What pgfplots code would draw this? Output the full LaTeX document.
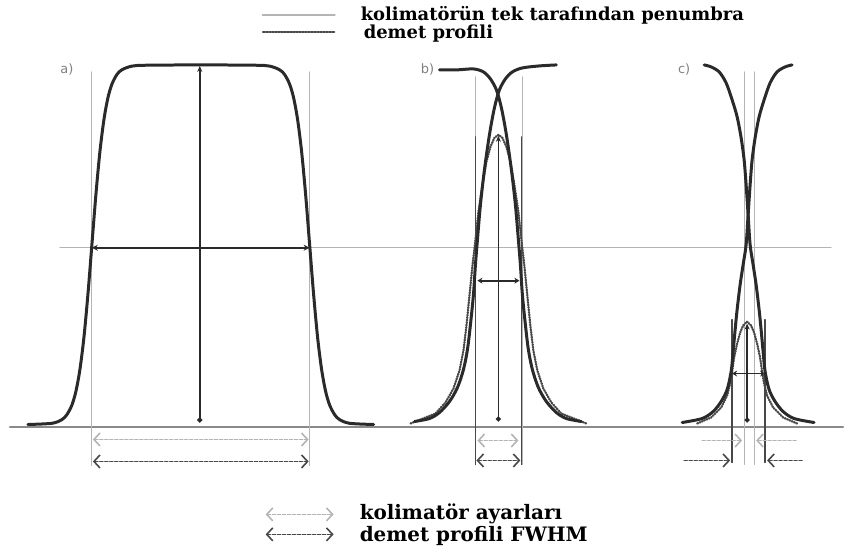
\documentclass[border=0pt]{standalone}
\usepackage{pgfplots}
\pgfplotsset{compat=1.18}
\usepackage{fontspec}
\setmainfont{DejaVu Serif}
\newfontfamily\labfont{DejaVu Sans}
\usetikzlibrary{arrows.meta}
\definecolor{curve}{HTML}{2A2A2A}
\definecolor{lgray}{HTML}{B4B4B4}
\definecolor{dgray}{HTML}{484848}
\definecolor{base}{HTML}{8A8A8A}
\begin{document}
\begin{tikzpicture}
\begin{axis}[width=844bp,height=554bp,scale only axis,
  xmin=0,xmax=844,ymin=0,ymax=554,y dir=reverse,
  axis lines=none,clip=false,
  every axis plot/.append style={line cap=round,line join=round}]
% bounding
\addplot[draw=none] coordinates {(0,0) (844,554)};
% half-maximum gray line and baseline
\addplot[lgray,line width=1.2bp] coordinates {(60,248) (832,248)};
\addplot[base,line width=2bp] coordinates {(10,428) (844,428)};
% ---------- a) ----------
\addplot[lgray,line width=1.2bp] coordinates {(92,72) (92,466)};
\addplot[lgray,line width=1.2bp] coordinates {(310,72) (310,466)};
\addplot[curve,line width=3bp,smooth] coordinates {
(28,425) (52,423.8) (62,420.1) (67,415.1) (72,405.5) (76,391.8) (80,370) (84,338) (88,295) (92,245)
(96,195) (100,152.1) (104,120.1) (108,98.1) (112,84.4) (117,74.7) (122,69.9) (132,66.2) (147,65.3) (201,65)
(255,65.3) (270,66.2) (280,69.9) (285,74.7) (290,84.4) (294,98.1) (298,120.1) (302,152.1) (306,195) (310,245)
(314,295) (318,338) (322,370) (326,391.8) (330,405.5) (335,415.1) (340,420.1) (350,423.8) (374,425)};
\addplot[curve,line width=1.5bp,{Circle[length=5bp]}-{Stealth[length=6bp,width=5bp]}] coordinates {(200,423) (200,66)};
\addplot[curve,line width=1.8bp,{Stealth[length=6bp,width=6bp]}-{Stealth[length=6bp,width=6bp]}] coordinates {(92,248) (310,248)};
\addplot[lgray,line width=1.6bp,dash pattern=on 3bp off 2bp,{Straight Barb[length=6bp,width=13bp]}-{Straight Barb[length=6bp,width=13bp]}] coordinates {(93,440) (309,440)};
\addplot[dgray,line width=1.6bp,dash pattern=on 3bp off 2bp,{Straight Barb[length=6bp,width=13bp]}-{Straight Barb[length=6bp,width=13bp]}] coordinates {(93,462) (309,462)};
% ---------- b) ----------
\addplot[lgray,line width=1.2bp] coordinates {(476,77) (476,465)};
\addplot[lgray,line width=1.2bp] coordinates {(523,77) (523,465)};
\addplot[dgray,line width=1.3bp] coordinates {(476,137) (476,465)};
\addplot[dgray,line width=1.3bp] coordinates {(522,137) (522,465)};
\addplot[dgray,line width=2.2bp,dash pattern=on 1bp off 1.5bp] coordinates {
(411,424) (436,414) (446,403) (454,389) (460,371) (464,351) (467,326) (470,296) (473,266) (476,240)
(479,212) (483,185) (487,162) (491,147) (495,138) (499,135) (503,138) (507,147) (511,162) (515,185)
(519,212) (522,240) (525,266) (528,296) (531,326) (534,351) (538,371) (544,389) (552,403) (562,414) (587,424)};
\addplot[curve,line width=3bp,smooth] coordinates {
(415,422) (430,419) (440,413) (450,402) (458,388) (464,370) (468,350) (471,325) (474,295) (476,265)
(478,240) (481,205) (485,170) (490,135) (495,108) (500,90) (506,79) (513,72) (523,68) (540,66) (557,65)};
\addplot[curve,line width=3bp,smooth] coordinates {
(582,422) (567,419) (557,413) (547,402) (539,388) (533,370) (529,350) (526,325) (523,295) (521,265)
(519,240) (516,205) (512,170) (507,135) (502,108) (497,90) (491,79) (484,72) (474,69) (457,70) (440,70)};
\addplot[curve,line width=1.5bp,{Circle[length=5bp]}-{Stealth[length=6bp,width=5bp]}] coordinates {(499,422) (499,136)};
\addplot[curve,line width=1.8bp,{Stealth[length=5bp,width=6bp]}-{Stealth[length=5bp,width=6bp]}] coordinates {(478,281) (520,281)};
\addplot[lgray,line width=1.6bp,dash pattern=on 3bp off 2bp,{Straight Barb[length=6bp,width=13bp]}-{Straight Barb[length=6bp,width=13bp]}] coordinates {(478,441) (519,441)};
\addplot[dgray,line width=1.6bp,dash pattern=on 3bp off 2bp,{Straight Barb[length=6bp,width=13bp]}-{Straight Barb[length=6bp,width=13bp]}] coordinates {(477,461) (521,461)};
% ---------- c) ----------
\addplot[lgray,line width=1.2bp] coordinates {(745,72) (745,465)};
\addplot[lgray,line width=1.2bp] coordinates {(755,72) (755,465)};
\addplot[dgray,line width=1.3bp] coordinates {(733,320) (733,463)};
\addplot[dgray,line width=1.3bp] coordinates {(766,320) (766,463)};
\addplot[dgray,line width=2.2bp,dash pattern=on 1bp off 1.5bp] coordinates {
(698,424) (712,418) (722,408) (728,396) (731,384) (733,372) (735,358) (738,344) (741,333) (744,326) (748,322)
(752,326) (755,333) (758,344) (761,358) (763,372) (765,384) (768,396) (774,408) (784,418) (798,424)};
\addplot[curve,line width=3bp,smooth] coordinates {
(705,65) (712,67) (720,72) (727,83) (733,100) (738,117) (742,138) (745,160) (747,185) (749,215) (751,245)
(754,265) (757,285) (760,310) (762,330) (764,352) (766,372) (770,390) (776,402) (784,412) (795,419) (815,423)};
\addplot[curve,line width=3bp,smooth] coordinates {
(793,65) (786,67) (778,72) (771,83) (765,100) (760,117) (756,138) (753,160) (751,185) (749,215) (747,245)
(744,265) (741,285) (738,310) (736,330) (734,352) (732,372) (728,390) (722,402) (714,412) (703,419) (683,423)};
\addplot[curve,line width=1.5bp,{Circle[length=5bp]}-{Stealth[length=6bp,width=5bp]}] coordinates {(748,423) (748,324)};
\addplot[curve,line width=1.8bp,{Stealth[length=5bp,width=6bp]}-{Stealth[length=5bp,width=6bp]}] coordinates {(733,374) (766,374)};
\addplot[lgray,line width=1.6bp,dash pattern=on 3bp off 2bp,-{Straight Barb[length=6bp,width=13bp]}] coordinates {(703,441) (743,441)};
\addplot[lgray,line width=1.6bp,dash pattern=on 3bp off 2bp,-{Straight Barb[length=6bp,width=13bp]}] coordinates {(797,441) (757,441)};
\addplot[dgray,line width=1.6bp,dash pattern=on 3bp off 2bp,-{Straight Barb[length=6bp,width=13bp]}] coordinates {(685,461) (731,461)};
\addplot[dgray,line width=1.6bp,dash pattern=on 3bp off 2bp,-{Straight Barb[length=6bp,width=13bp]}] coordinates {(803,461) (768,461)};
% panel labels
\node[anchor=center,text=gray,font=\labfont\fontsize{13}{15}\selectfont] at (axis cs:67,70) {a)};
\node[anchor=center,text=gray,font=\labfont\fontsize{13}{15}\selectfont] at (axis cs:428,70) {b)};
\node[anchor=center,text=gray,font=\labfont\fontsize{13}{15}\selectfont] at (axis cs:685,70) {c)};
% top legend
\addplot[lgray,line width=2.5bp] coordinates {(263,15) (335,15)};
\addplot[dgray,line width=1.4bp,dash pattern=on 2bp off 1bp] coordinates {(263,32) (335,32)};
\node[anchor=west,inner sep=0pt,font=\bfseries\fontsize{18}{20}\selectfont] at (axis cs:361,15) {kolimatörün tek tarafından penumbra};
\node[anchor=west,inner sep=0pt,font=\bfseries\fontsize{18}{20}\selectfont] at (axis cs:364,34) {demet profili};
% bottom legend
\addplot[lgray,line width=1.6bp,dash pattern=on 3bp off 2bp,{Straight Barb[length=6bp,width=13bp]}-{Straight Barb[length=6bp,width=13bp]}] coordinates {(266,515) (334,515)};
\addplot[dgray,line width=1.6bp,dash pattern=on 3bp off 2bp,{Straight Barb[length=6bp,width=13bp]}-{Straight Barb[length=6bp,width=13bp]}] coordinates {(266,535) (334,535)};
\node[anchor=west,inner sep=0pt,font=\bfseries\fontsize{20}{22}\selectfont] at (axis cs:360,514) {kolimatör ayarları};
\node[anchor=west,inner sep=0pt,font=\bfseries\fontsize{20}{22}\selectfont] at (axis cs:360,537) {demet profili FWHM};
\end{axis}
\end{tikzpicture}
\end{document}
